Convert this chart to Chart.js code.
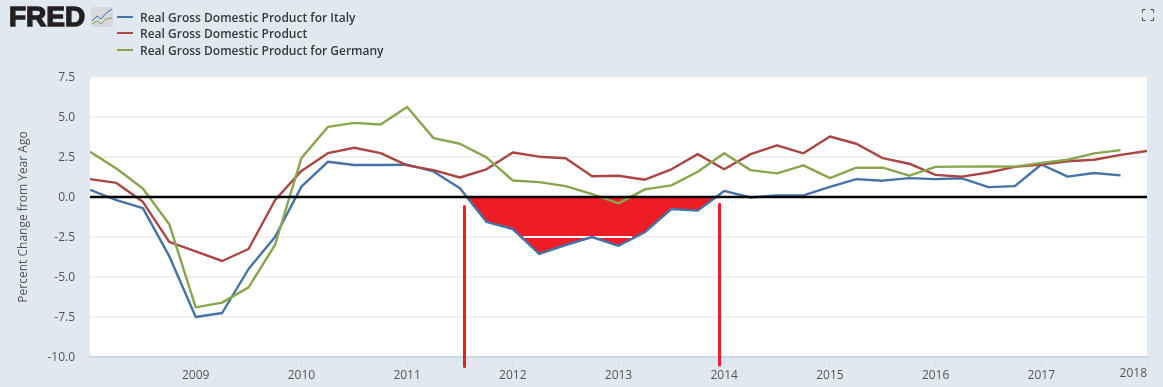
<!DOCTYPE html>
<html>
<head>
<meta charset="utf-8">
<script src="https://cdn.jsdelivr.net/npm/chart.js@4"></script>
<style>
  html, body { margin: 0; padding: 0; background: #e1e9f0; }
  #wrap { position: relative; width: 1163px; height: 387px; overflow: hidden; font-family: "Open Sans", sans-serif; }
  canvas { position: absolute; left: 0; top: 0; }
  .logo { position: absolute; left: 9px; top: 2px; font: bold 28px/30px "Liberation Sans", sans-serif; color: #231f20; letter-spacing: 0; -webkit-text-stroke: 1.4px #231f20; }
  .legend { position: absolute; left: 117px; color: #333842; font-size: 12px; font-weight: 600; line-height: 17px; white-space: nowrap; }
  .legend i { display: inline-block; width: 16px; height: 2px; vertical-align: 4px; margin-right: 7px; }
  svg { position: absolute; }
</style>
</head>
<body>
<div id="wrap">
  <canvas id="chart" width="1163" height="387"></canvas>
  <div class="logo">FRED</div>
  <svg style="left:91px;top:7px" width="23" height="20">
    <rect width="22" height="20" rx="2" fill="#d5d9dc"/>
    <polyline points="1,14 6,9 10,12 15,6 21,2" fill="none" stroke="#4572a7"/>
    <polyline points="1,17 6,14 10,17 15,12 21,11" fill="none" stroke="#89a54e"/>
  </svg>
  <div class="legend" style="top:9px"><i style="background:#4572a7"></i>Real Gross Domestic Product for Italy</div>
  <div class="legend" style="top:25px"><i style="background:#aa4643"></i>Real Gross Domestic Product</div>
  <div class="legend" style="top:42px"><i style="background:#89a54e"></i>Real Gross Domestic Product for Germany</div>
  <svg style="left:1142px;top:9px" width="12" height="12" fill="none" stroke="#444">
    <path d="M.5 3.5V.5H3.5M8.5 .5H11.5V3.5M11.5 8.5V11.5H8.5M3.5 11.5H.5V8.5"/>
  </svg>
</div>
<script>
// quarterly, percent change from year ago
const quarters = [
  2008,2008.25,2008.5,2008.75,2009,2009.25,2009.5,2009.75,
  2010,2010.25,2010.5,2010.75,2011,2011.25,2011.5,2011.75,
  2012,2012.25,2012.5,2012.75,2013,2013.25,2013.5,2013.75,
  2014,2014.25,2014.5,2014.75,2015,2015.25,2015.5,2015.75,
  2016,2016.25,2016.5,2016.75,2017,2017.25,2017.5,2017.75,2018
];
const italy = [
  0.45,-0.2,-0.7,-3.7,-7.5,-7.25,-4.5,-2.5,
  0.65,2.2,2.0,2.0,2.02,1.6,0.55,-1.55,
  -2.0,-3.55,-3.0,-2.5,-3.05,-2.2,-0.75,-0.85,
  0.38,-0.03,0.1,0.1,0.63,1.12,1.02,1.18,
  1.12,1.17,0.62,0.68,2.03,1.27,1.5,1.35
];
const usa = [
  1.12,0.88,-0.3,-2.8,-3.4,-4.0,-3.25,-0.2,
  1.63,2.74,3.08,2.74,1.98,1.68,1.22,1.73,
  2.78,2.52,2.42,1.3,1.33,1.08,1.73,2.68,
  1.73,2.68,3.23,2.73,3.78,3.33,2.43,2.08,
  1.38,1.27,1.53,1.88,2.03,2.23,2.33,2.63,2.88
];
const germany = [
  2.83,1.78,0.53,-1.7,-6.9,-6.6,-5.65,-3.0,
  2.43,4.38,4.63,4.53,5.63,3.68,3.33,2.48,
  1.03,0.93,0.68,0.18,-0.4,0.48,0.73,1.58,
  2.73,1.68,1.48,1.98,1.18,1.83,1.83,1.33,
  1.88,1.9,1.91,1.9,2.13,2.33,2.73,2.93
];
// hand drawn red shape and markers on top of the chart
const shadeX = [2011.56,2011.75,2012,2012.25,2012.5,2012.75,2013,2013.25,2013.5,2013.75,2013.93];
const shadeY = [0,-1.55,-2.0,-3.55,-3.0,-2.5,-3.05,-2.2,-0.75,-0.85,0];
const gapX = [2012.1,2013.13];
const gapY = [-2.5,-2.5];
const markerLeftX = [2011.543,2011.543];
const markerLeftY = [-0.6,-10.6];
const markerRightX = [2013.956,2013.956];
const markerRightY = [-0.45,-10.5];
const zeroX = [2008,2018];
const zeroY = [0,0];

const pairs = (xs, ys) => ys.map((y, i) => ({x: xs[i], y: y}));

const lineSet = (data, color, order, width) => ({
  data: data,
  borderColor: color,
  borderWidth: width || 2.4,
  borderJoinStyle: 'round',
  pointRadius: 0,
  tension: 0,
  order: order
});

const tickFont = {family: '"Open Sans", sans-serif', size: 12};

const plotBackground = {
  id: 'plotBackground',
  beforeDraw(chart) {
    const a = chart.chartArea;
    chart.ctx.save();
    chart.ctx.fillStyle = '#ffffff';
    chart.ctx.fillRect(a.left, a.top, a.right - a.left, a.bottom - a.top);
    chart.ctx.restore();
  }
};

// the last year label sits inside the plot edge
const lastYearLabel = {
  id: 'lastYearLabel',
  afterDraw(chart) {
    const ctx = chart.ctx;
    ctx.save();
    ctx.font = '12px "Open Sans", sans-serif';
    ctx.fillStyle = '#555555';
    ctx.textAlign = 'right';
    ctx.textBaseline = 'top';
    ctx.fillText('2018', chart.chartArea.right, 368);
    ctx.restore();
  }
};

new Chart(document.getElementById('chart'), {
  type: 'line',
  data: {
    datasets: [
      Object.assign(lineSet(pairs(shadeX, shadeY), '#ee1c25', 8, 1), {fill: 'origin', backgroundColor: '#ee1c25'}),
      lineSet(pairs(gapX, gapY), '#ffffff', 7, 2),
      lineSet(pairs(quarters, italy), '#4572a7', 6),
      lineSet(pairs(quarters, usa), '#aa4643', 5),
      lineSet(pairs(quarters, germany), '#89a54e', 4),
      lineSet(pairs(zeroX, zeroY), '#000000', 3),
      Object.assign(lineSet(pairs(markerLeftX, markerLeftY), '#ee1c25', 2, 3), {clip: false}),
      Object.assign(lineSet(pairs(markerRightX, markerRightY), '#ee1c25', 1, 3), {clip: false})
    ]
  },
  options: {
    responsive: false,
    animation: false,
    layout: {padding: {top: 77, right: 16, bottom: 0, left: 0}},
    plugins: {legend: {display: false}, tooltip: {enabled: false}},
    scales: {
      x: {
        type: 'linear',
        min: 2008,
        max: 2018,
        afterFit: (scale) => { scale.height = 30; },
        border: {color: '#ccd6eb', width: 2},
        grid: {
          drawOnChartArea: false,
          tickLength: 10,
          tickColor: (c) => (c.tick && c.tick.value > 2008 ? '#d5dfea' : 'transparent')
        },
        ticks: {
          stepSize: 1,
          maxRotation: 0,
          padding: 1,
          color: '#555555',
          font: tickFont,
          callback: (v) => (v > 2008 && v < 2018 ? String(v) : '')
        }
      },
      y: {
        min: -10,
        max: 7.5,
        afterFit: (scale) => { scale.width = 90; },
        border: {display: false},
        grid: {color: '#f0f0f0', lineWidth: 2, drawTicks: false},
        title: {
          display: true,
          text: 'Percent Change from Year Ago',
          color: '#555555',
          font: tickFont,
          padding: {top: 16, bottom: 0}
        },
        ticks: {
          stepSize: 2.5,
          padding: 15,
          labelOffset: 1,
          color: '#555555',
          font: tickFont,
          callback: (v) => v.toFixed(1)
        }
      }
    }
  },
  plugins: [plotBackground, lastYearLabel]
});
</script>
</body>
</html>
